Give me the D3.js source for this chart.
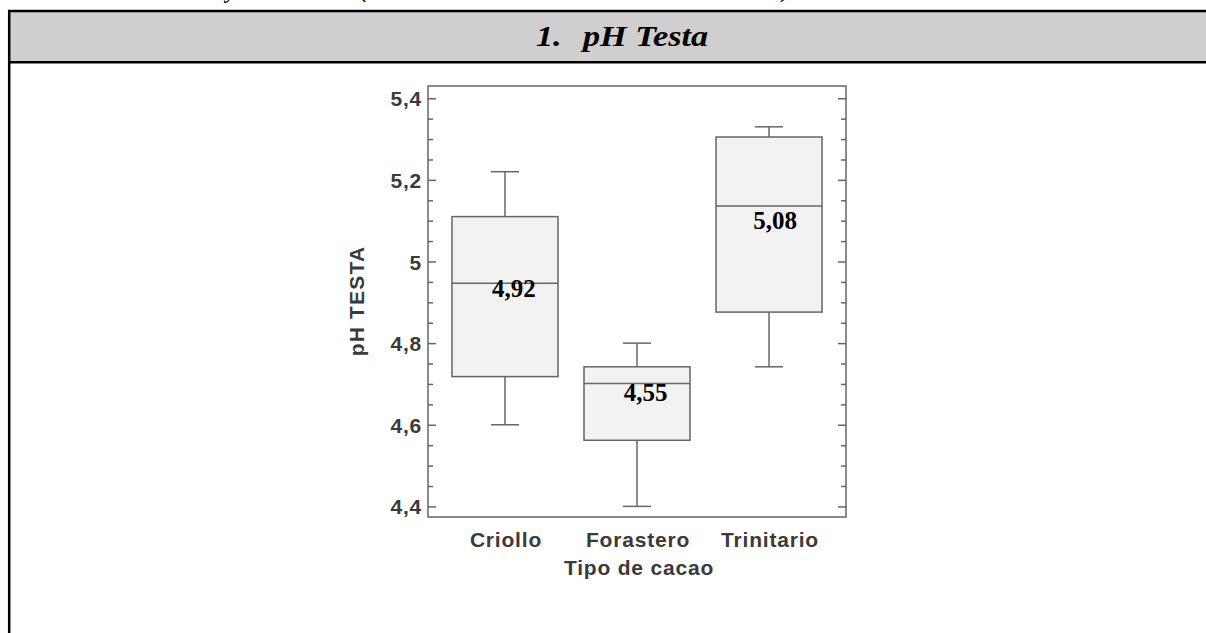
<!DOCTYPE html>
<html><head><meta charset="utf-8">
<script src="https://cdn.jsdelivr.net/npm/d3@7/dist/d3.min.js"></script>
<style>body{margin:0;background:#fff;}svg{display:block;}</style>
</head><body>
<script>
// ---- data ----
const categories = ["Criollo", "Forastero", "Trinitario"];
const whiskerLow  = [4.60, 4.40, 4.742];
const q1          = [4.718, 4.562, 4.876];
const median      = [4.947, 4.701, 5.136];
const q3          = [5.11, 4.742, 5.305];
const whiskerHigh = [5.22, 4.80, 5.33];
const valueLabels = ["4,92", "4,55", "5,08"];
const yTickValues = [4.4, 4.6, 4.8, 5.0, 5.2, 5.4];
const yTickLabels = ["4,4", "4,6", "4,8", "5", "5,2", "5,4"];
const yMinorValues = [4.45,4.5,4.55,4.65,4.7,4.75,4.85,4.9,4.95,5.05,5.1,5.15,5.25,5.3,5.35];
const headerNumber = "1.";
const headerTitle = "pH Testa";
const xTitle = "Tipo de cacao";
const yTitle = "pH TESTA";
// fragments of the (cut-off) line of text above the table
const clippedAbove = [{t: "y", x: 226}, {t: "(", x: 360}, {t: ")", x: 782}];

const W = 1206, H = 633;
const svg = d3.select("body").append("svg").attr("width", W).attr("height", H);
const serif = "Liberation Serif, Times New Roman, serif";

svg.append("g").selectAll("text").data(clippedAbove).join("text")
  .attr("x", d => d.x).attr("y", -2).attr("font-family", serif).attr("font-weight", "bold")
  .attr("font-style", "italic").attr("font-size", 22).attr("fill", "#000").text(d => d.t);

// table
svg.append("rect").attr("x", 9).attr("y", 11).attr("width", W).attr("height", 51).attr("fill", "#d0cece");
svg.append("line").attr("x1", 8).attr("x2", W).attr("y1", 11).attr("y2", 11).attr("stroke", "#000").attr("stroke-width", 2.5);
svg.append("line").attr("x1", 8).attr("x2", W).attr("y1", 62.3).attr("y2", 62.3).attr("stroke", "#000").attr("stroke-width", 2.5);
svg.append("line").attr("x1", 9.2).attr("x2", 9.2).attr("y1", 10).attr("y2", H).attr("stroke", "#000").attr("stroke-width", 2.5);
svg.append("text").attr("transform", "translate(536,46) scale(1.18,1)")
  .attr("font-family", serif).attr("font-weight", "bold").attr("font-style", "italic")
  .attr("font-size", 29).text(headerNumber);
svg.append("text").attr("transform", "translate(583,46) scale(1.18,1)")
  .attr("font-family", serif).attr("font-weight", "bold").attr("font-style", "italic")
  .attr("font-size", 29).text(headerTitle);

// plot
const mLeft = 428, mRight = 846, mTop = 86, mBottom = 517;
const y = d3.scaleLinear().domain([4.374, 5.43]).range([mBottom, mTop]);
const x = d3.scalePoint().domain(categories).range([mLeft, mRight]).padding(0.583);
const boxW = 106, capW = 28;
const axisColor = "#666";
const sansFont = "Liberation Sans, Arial, sans-serif";
const textGray = "#3a3a3a";

// frame
svg.append("rect").attr("x", mLeft).attr("y", mTop).attr("width", mRight - mLeft).attr("height", mBottom - mTop)
  .attr("fill", "none").attr("stroke", axisColor).attr("stroke-width", 1.5);

function styleAxis(g) {
  g.select(".domain").remove();
  g.selectAll(".tick line").attr("stroke", axisColor).attr("stroke-width", 1.5);
}
// left major
svg.append("g").attr("transform", `translate(${mLeft},0)`)
  .call(d3.axisLeft(y).tickValues(yTickValues).tickSize(-8).tickPadding(6).tickFormat((d, i) => yTickLabels[i]))
  .call(styleAxis)
  .call(g => g.selectAll(".tick text").attr("font-family", sansFont).attr("font-weight", "bold")
     .attr("font-size", 21).attr("letter-spacing", 0.8).attr("fill", textGray).attr("dy", "0.36em"));
svg.append("g").attr("transform", `translate(${mLeft},0)`)
  .call(d3.axisLeft(y).tickValues(yMinorValues).tickSize(-5).tickFormat(""))
  .call(styleAxis);
// right
svg.append("g").attr("transform", `translate(${mRight},0)`)
  .call(d3.axisRight(y).tickValues(yTickValues).tickSize(-8).tickFormat(""))
  .call(styleAxis);
svg.append("g").attr("transform", `translate(${mRight},0)`)
  .call(d3.axisRight(y).tickValues(yMinorValues).tickSize(-5).tickFormat(""))
  .call(styleAxis);

// boxes
const idx = d3.range(categories.length);
const g = svg.append("g");
idx.forEach(i => {
  const cx = x(categories[i]);
  const gg = g.append("g").attr("stroke", axisColor).attr("stroke-width", 1.5);
  gg.append("line").attr("x1", cx).attr("x2", cx).attr("y1", y(whiskerHigh[i])).attr("y2", y(q3[i]));
  gg.append("line").attr("x1", cx).attr("x2", cx).attr("y1", y(q1[i])).attr("y2", y(whiskerLow[i]));
  gg.append("line").attr("x1", cx - capW/2).attr("x2", cx + capW/2).attr("y1", y(whiskerHigh[i])).attr("y2", y(whiskerHigh[i]));
  gg.append("line").attr("x1", cx - capW/2).attr("x2", cx + capW/2).attr("y1", y(whiskerLow[i])).attr("y2", y(whiskerLow[i]));
  gg.append("rect").attr("x", cx - boxW/2).attr("width", boxW).attr("y", y(q3[i])).attr("height", y(q1[i]) - y(q3[i]))
    .attr("fill", "#f2f2f2");
  gg.append("line").attr("x1", cx - boxW/2).attr("x2", cx + boxW/2).attr("y1", y(median[i])).attr("y2", y(median[i]));
});
// value labels
const labelDx = [9, 8.5, 6], labelDy = [14, 17, 23];
idx.forEach(i => {
  svg.append("text").attr("x", x(categories[i]) + labelDx[i]).attr("y", y(median[i]) + labelDy[i])
    .attr("text-anchor", "middle").attr("font-family", serif)
    .attr("font-weight", "bold").attr("font-size", 25).attr("fill", "#000").text(valueLabels[i]);
});

// x labels
svg.append("g").selectAll("text").data(categories).join("text")
  .attr("x", d => x(d) + 1).attr("y", 547).attr("text-anchor", "middle")
  .attr("font-family", sansFont).attr("font-weight", "bold").attr("font-size", 21).attr("letter-spacing", 0.8)
  .attr("fill", textGray).text(d => d);
svg.append("text").attr("x", 639).attr("y", 575).attr("text-anchor", "middle")
  .attr("font-family", sansFont).attr("font-weight", "bold").attr("font-size", 21).attr("letter-spacing", 0.8)
  .attr("fill", textGray).text(xTitle);
svg.append("text").attr("transform", "translate(364,301) rotate(-90)").attr("text-anchor", "middle")
  .attr("font-family", sansFont).attr("font-weight", "bold").attr("font-size", 21).attr("letter-spacing", 1.2)
  .attr("fill", textGray).text(yTitle);
</script>
</body></html>
